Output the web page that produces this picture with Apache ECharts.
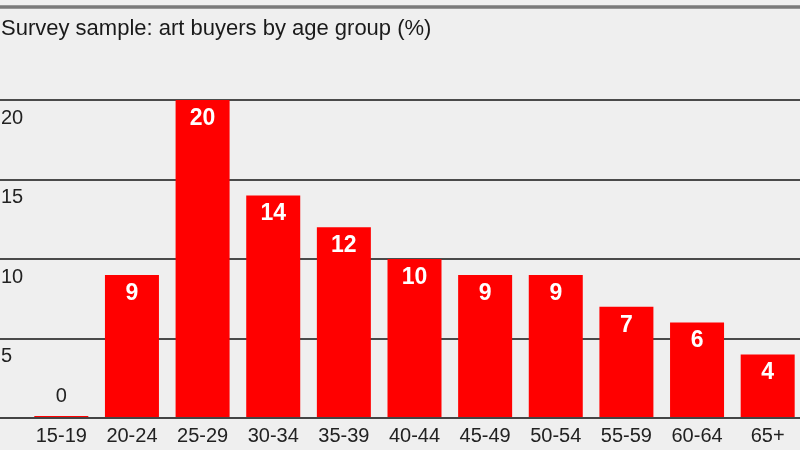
<!DOCTYPE html>
<html>
<head>
<meta charset="utf-8">
<script src="https://cdn.jsdelivr.net/npm/echarts@6/dist/echarts.min.js"></script>
<style>
  html, body { margin: 0; padding: 0; background: #efefef; }
  #chart { width: 800px; height: 450px; }
</style>
</head>
<body>
<div id="chart"></div>
<script>
// 年龄组与占比
const ageGroups = ['15-19', '20-24', '25-29', '30-34', '35-39', '40-44', '45-49', '50-54', '55-59', '60-64', '65+'];
const buyerShare = [0, 9, 20, 14, 12, 10, 9, 9, 7, 6, 4];
const yTicks = [0, 5, 10, 15, 20];

const FONT = '"Liberation Sans", Arial, sans-serif';
const RED = '#ff0000';

const chart = echarts.init(document.getElementById('chart'));
const option = {
  backgroundColor: '#efefef',
  animation: false,
  title: {
    text: 'Survey sample: art buyers by age group (%)',
    left: 1, top: 18, padding: 0,
    textStyle: { fontFamily: FONT, fontSize: 22, fontWeight: 'normal', color: '#1a1a1a' },
  },
  graphic: [{
    type: 'line',
    shape: { x1: 0, y1: 7, x2: 800, y2: 7 },
    style: { stroke: '#7a7a7a', lineWidth: 3.5 },
  }],
  grid: [
    { left: 0, right: 0, top: 100, bottom: 32, outerBoundsMode: 'none' },   // 网格线和刻度
    { left: 26, right: -3, top: 100, bottom: 32, outerBoundsMode: 'none' },  // 柱子
  ],
  xAxis: [
    { type: 'value', gridIndex: 0, show: false, min: 0, max: 1 },
    {
      type: 'category', gridIndex: 1, data: ageGroups,
      axisLine: { show: false },
      axisTick: { show: false },
      axisLabel: { fontFamily: FONT, fontSize: 20, color: '#222', margin: 8 },
    },
  ],
  yAxis: [
    {
      type: 'value', gridIndex: 0, min: 0, max: 20, interval: 5,
      axisLine: { show: false },
      axisTick: { show: false },
      splitLine: { lineStyle: { color: '#4a4a4a', width: 2 } },
      axisLabel: {
        inside: true, margin: 1,
        verticalAlign: 'top', padding: [8, 0, 0, 0],
        fontFamily: FONT, fontSize: 20, color: '#222',
        formatter: v => (v === 0 ? '' : String(v)),
      },
    },
    { type: 'value', gridIndex: 1, min: 0, max: 20, interval: 5, show: false },
  ],
  series: [
    {
      type: 'bar', xAxisIndex: 1, yAxisIndex: 1,
      barWidth: 54, barMinHeight: 2,
      data: buyerShare.map(v => ({
        value: v,
        label: v === 0
          ? { position: 'top', distance: 10, color: '#222', fontWeight: 'normal', fontSize: 20 }
          : undefined,
      })),
      itemStyle: { color: RED },
      label: {
        show: true, position: 'insideTop', distance: 7,
        fontFamily: FONT, fontSize: 23, fontWeight: 'bold', color: '#fff',
      },
      z: 3,
    },
    {
      // 底部坐标轴线
      type: 'line', xAxisIndex: 0, yAxisIndex: 0,
      data: [], silent: true,
      markLine: {
        symbol: 'none', silent: true, label: { show: false },
        lineStyle: { color: '#444', width: 2, type: 'solid' },
        data: [{ yAxis: yTicks[0] }],
      },
      z: 4,
    },
  ],
};
chart.setOption(option);
</script>
</body>
</html>
